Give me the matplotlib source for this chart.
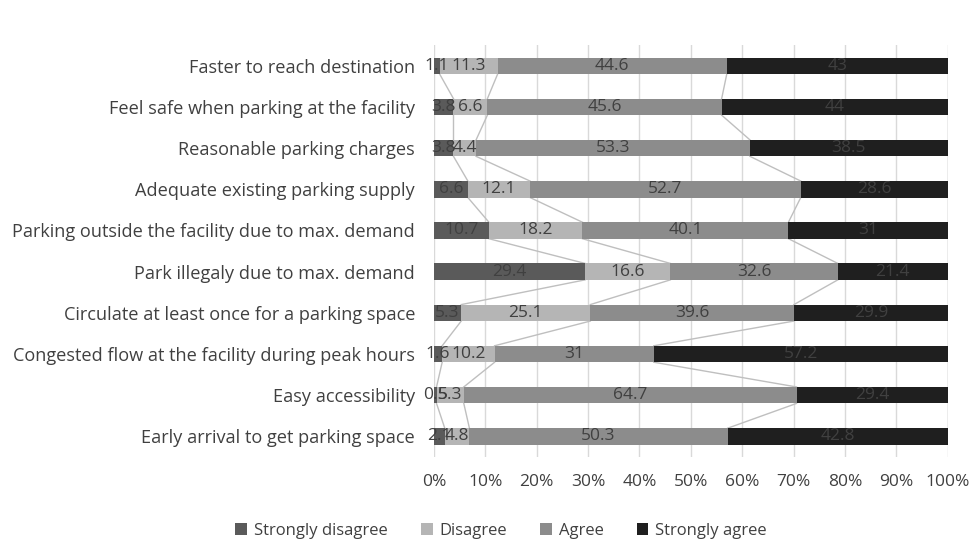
import numpy as np
import matplotlib.pyplot as plt

categories = [
    "Faster to reach destination",
    "Feel safe when parking at the facility",
    "Reasonable parking charges",
    "Adequate existing parking supply",
    "Parking outside the facility due to max. demand",
    "Park illegaly due to max. demand",
    "Circulate at least once for a parking space",
    "Congested flow at the facility during peak hours",
    "Easy accessibility",
    "Early arrival to get parking space",
]
strongly_disagree = [1.1, 3.8, 3.8, 6.6, 10.7, 29.4, 5.3, 1.6, 0.5, 2.1]
disagree = [11.3, 6.6, 4.4, 12.1, 18.2, 16.6, 25.1, 10.2, 5.3, 4.8]
agree = [44.6, 45.6, 53.3, 52.7, 40.1, 32.6, 39.6, 31, 64.7, 50.3]
strongly_agree = [43, 44, 38.5, 28.6, 31, 21.4, 29.9, 57.2, 29.4, 42.8]
series_names = ["Strongly disagree", "Disagree", "Agree", "Strongly agree"]

plt.rcParams['font.family'] = ['Open Sans', 'DejaVu Sans']
colors = ["#5a5a5a", "#b5b5b5", "#8c8c8c", "#1f1f1f"]
txt = "#404040"

fig = plt.figure(figsize=(9.73, 5.44), dpi=100)
ax = fig.add_axes([0.446, 0.16, 0.528, 0.757])

data = np.array([strongly_disagree, disagree, agree, strongly_agree])
totals = data.sum(axis=0)
pct = data / totals * 100
y = np.arange(len(categories))
h = 0.4

left = np.zeros(len(categories))
for i in range(4):
    ax.barh(y, pct[i], left=left, height=h, color=colors[i], label=series_names[i], zorder=3)
    for j in range(len(categories)):
        ax.text(left[j] + pct[i][j] / 2, y[j], f"{data[i][j]:g}", ha='center', va='center',
                fontsize=12.5, color=txt, zorder=5)
    right = left + pct[i]
    # series lines between consecutive bars
    for j in range(len(categories) - 1):
        ax.plot([right[j], right[j + 1]], [y[j] + h / 2, y[j + 1] - h / 2],
                color="#bfbfbf", lw=1, zorder=2)
    left = right

ax.set_ylim(len(categories) - 0.5, -0.5)
ax.set_xlim(0, 100)
ax.set_yticks(y)
ax.set_yticklabels(categories, fontsize=13.1, color=txt)
ax.set_xticks(np.arange(0, 101, 10))
ax.set_xticklabels([f"{v}%" for v in range(0, 101, 10)], fontsize=12.5, color=txt)
ax.tick_params(length=0)
ax.tick_params(axis='y', pad=13.5)
ax.tick_params(axis='x', pad=12)
ax.grid(axis='x', color="#d9d9d9", lw=1, zorder=0)
for s in ax.spines.values():
    s.set_visible(False)

fig.legend(loc='center', bbox_to_anchor=(0.515, 0.024), ncol=4, frameon=False,
           fontsize=12, handlelength=0.7, handleheight=0.7, handletextpad=0.4,
           columnspacing=2.0, labelcolor=txt)

fig.savefig("out.png", dpi=100)
